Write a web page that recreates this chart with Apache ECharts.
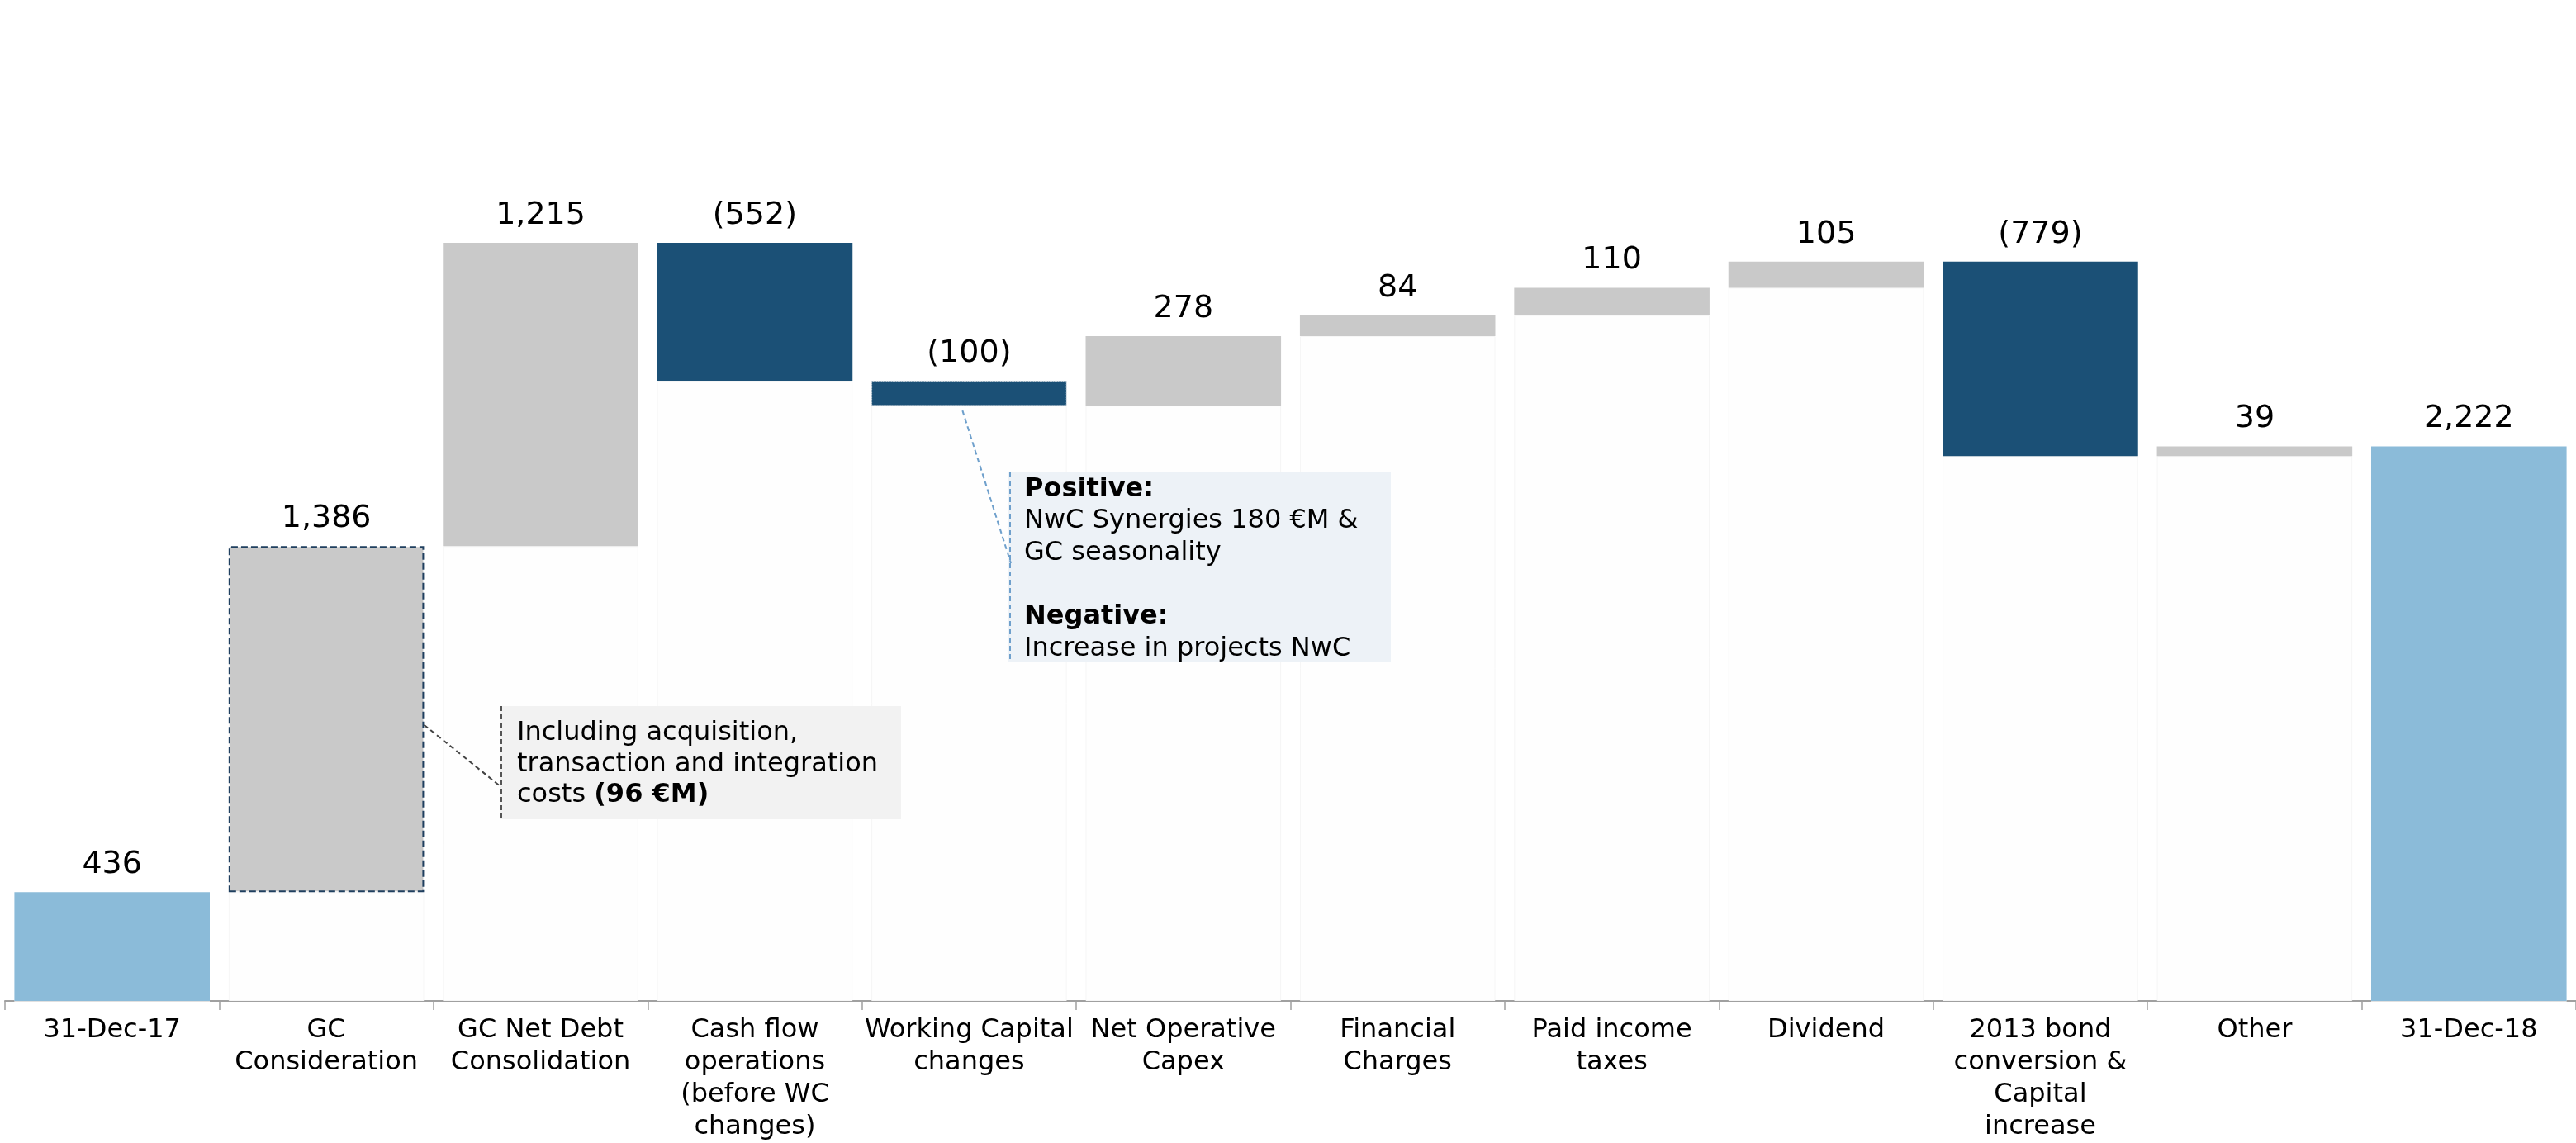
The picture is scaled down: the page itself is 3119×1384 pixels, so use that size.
<!DOCTYPE html>
<html><head><meta charset="utf-8">
<script src="https://cdn.jsdelivr.net/npm/echarts@6/dist/echarts.min.js"></script>
<style>html,body{margin:0;padding:0;background:#fff}#c{width:3119px;height:1384px}</style>
</head><body><div id="c"></div>
<script>
const categories = ['31-Dec-17','GC\nConsideration','GC Net Debt\nConsolidation','Cash flow\noperations\n(before WC\nchanges)','Working Capital\nchanges','Net Operative\nCapex','Financial\nCharges','Paid income\ntaxes','Dividend','2013 bond\nconversion &\nCapital\nincrease','Other','31-Dec-18'];
const changes = [436, 1386, 1215, -552, -100, 278, 84, 110, 105, -779, 39, 2222];
const kinds = ['total','pos','pos','neg','neg','pos','pos','pos','pos','neg','pos','total'];

const FONT = 'DejaVu Sans';
const COLORS = {total:'#8BBBD9', pos:'#C9C9C9', neg:'#1B5076'};
const GAP = 0.088;

const base = [], vis = [];
let run = 0;
changes.forEach((v, i) => {
  const k = kinds[i];
  if (k === 'total') { base.push(0); vis.push(v); run = v; }
  else if (v >= 0) { base.push(run); vis.push(v); run += v; }
  else { run += v; base.push(run); vis.push(-v); }
});

const chart = echarts.init(document.getElementById('c'), null, {renderer:'canvas'});
chart.setOption({
  animation:false,
  backgroundColor:'#ffffff',
  textStyle:{fontFamily:FONT},
  grid:{left:6, right:-3, top:3, bottom:172, containLabel:false},
  xAxis:{
    type:'category', data:categories,
    axisLine:{lineStyle:{color:'#a0a0a0', width:2}},
    axisTick:{show:true, length:11, lineStyle:{color:'#a0a0a0', width:1.5}},
    axisLabel:{interval:0, color:'#000', fontSize:32, lineHeight:39, margin:16, fontFamily:FONT},
    splitLine:{show:false}
  },
  yAxis:{type:'value', min:0, max:4000, show:false, splitLine:{show:false}},
  series:[
    {
      name:'base', type:'bar', stack:'w', silent:true, barCategoryGap:(GAP*100)+'%',
      data: base,
      itemStyle:{color:'#fefefe', borderColor:'#f6f6f6', borderWidth:1}
    },
    {
      name:'value', type:'bar', stack:'w', barCategoryGap:(GAP*100)+'%',
      data: vis.map((v, i) => {
        const it = {value:v, itemStyle:{color:COLORS[kinds[i]]}};
        if (i === 1) it.itemStyle = {color:COLORS.pos, borderColor:'#1f3f5f', borderType:'dashed', borderWidth:2};
        if (i === 4) it.itemStyle = {color:COLORS.neg, borderColor:'#c7d0d8', borderType:'dotted', borderWidth:1};
        return it;
      }),
      label:{
        show:true, position:'top', distance:14, color:'#000', fontSize:38, fontFamily:FONT,
        formatter: p => { const v = changes[p.dataIndex]; const s = Math.abs(v).toLocaleString('en-US'); return v < 0 ? '(' + s + ')' : s; }
      }
    }
  ]
});

// annotation leaders anchored to bars
const cx1 = chart.convertToPixel({xAxisIndex:0}, 1);
const cx0 = chart.convertToPixel({xAxisIndex:0}, 0);
const band = cx1 - cx0;
const halfBar = band * (1 - GAP) / 2;
const gcRight = cx1 + halfBar;
const gcY = chart.convertToPixel({yAxisIndex:0}, base[1] + 670);
const wcX = chart.convertToPixel({xAxisIndex:0}, 4) - 8;
const wcBottom = chart.convertToPixel({yAxisIndex:0}, base[4]) + 6;

chart.setOption({
  graphic:[
    {type:'rect', shape:{x:606, y:855, width:485, height:137}, style:{fill:'#f2f2f2'}, z:10},
    {type:'line', shape:{x1:607, y1:855, x2:607, y2:992}, style:{stroke:'#555', lineWidth:2, lineDash:[6,4]}, z:11},
    {type:'line', shape:{x1:gcRight, y1:gcY, x2:607, y2:953}, style:{stroke:'#444', lineWidth:2, lineDash:[6,4]}, z:11},
    {type:'text', x:626, y:869, z:12, style:{
      text:'Including acquisition,\ntransaction and integration\ncosts {b|(96 €M)}',
      font:'32px "DejaVu Sans"', fill:'#000', lineHeight:37.5,
      rich:{b:{fontWeight:'bold', fontSize:32, fontFamily:FONT, lineHeight:37.5, fill:'#000'}}
    }},
    {type:'rect', shape:{x:1221, y:572, width:463, height:230}, style:{fill:'#edf2f7'}, z:10},
    {type:'line', shape:{x1:1223, y1:572, x2:1223, y2:802}, style:{stroke:'#6fa0cc', lineWidth:2, lineDash:[6,4]}, z:11},
    {type:'line', shape:{x1:wcX, y1:wcBottom, x2:1224, y2:682}, style:{stroke:'#6fa0cc', lineWidth:2, lineDash:[6,4]}, z:11},
    {type:'text', x:1240, y:573, z:12, style:{
      text:'{b|Positive:}\nNwC Synergies 180 €M &\nGC seasonality\n \n{b|Negative:}\nIncrease in projects NwC',
      font:'32px "DejaVu Sans"', fill:'#000', lineHeight:38.6,
      rich:{b:{fontWeight:'bold', fontSize:32, fontFamily:FONT, lineHeight:38.6, fill:'#000'}}
    }}
  ]
});
</script>
</body></html>
